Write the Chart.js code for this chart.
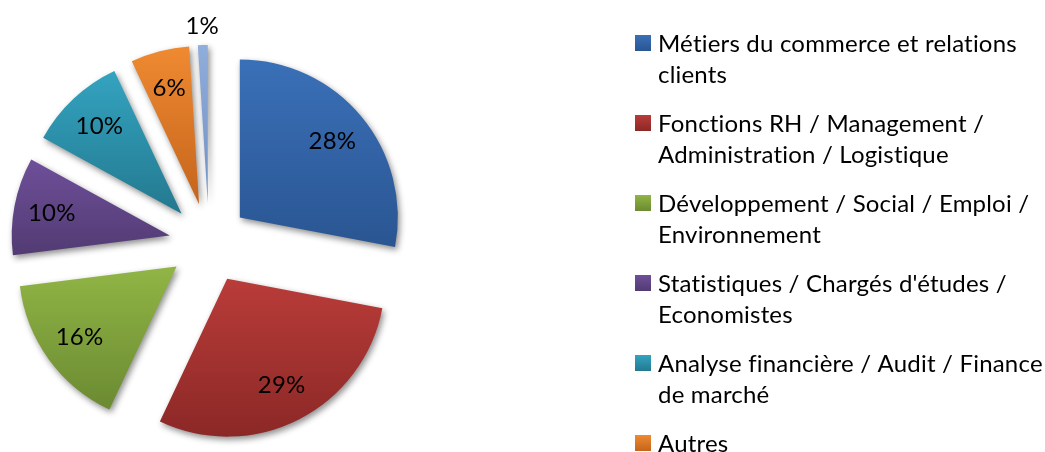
<!DOCTYPE html>
<html>
<head>
<meta charset="utf-8">
<script src="https://cdn.jsdelivr.net/npm/chart.js@4/dist/chart.umd.min.js"></script>
<style>
  body { margin: 0; background: #fff; }
  #wrap { width: 1045px; height: 452px; overflow: hidden; }
</style>
</head>
<body>
<div id="wrap"><canvas id="myChart" width="1045" height="452"></canvas></div>
<script>
"use strict";

// legend text, already broken in lines like the original
const categories = [
  ["Métiers du commerce et relations", "clients"],
  ["Fonctions RH / Management /", "Administration / Logistique"],
  ["Développement / Social / Emploi /", "Environnement"],
  ["Statistiques / Chargés d'études /", "Economistes"],
  ["Analyse financière / Audit / Finance", "de marché"],
  ["Autres"],
  [""]
];
const shares = [28, 29, 16, 10, 10, 6, 1];
const percentLabels = ["28%", "29%", "16%", "10%", "10%", "6%", "1%"];
const colorsTop = ["#3a70b8", "#b93c39", "#91b545", "#6e4f99", "#34a3c0", "#ef8a31", "#90addb"];
const colorsBottom = ["#2a5592", "#8b2826", "#6b8a32", "#523b73", "#23798f", "#c5641c", "#7190c4"];

const FONT = "Lato, 'Open Sans', sans-serif";
const explode = 40;
const pieRadius = 158;

const piePlugin = {
  id: "piePlugin",
  afterDatasetUpdate(chart, args) {
    // pull every slice out along its middle angle
    chart.getDatasetMeta(args.index).data.forEach(function (arc) {
      const mid = (arc.startAngle + arc.endAngle) / 2;
      arc.x += Math.cos(mid) * explode;
      arc.y += Math.sin(mid) * explode;
    });
  },
  beforeDatasetsDraw(chart) {
    const ctx = chart.ctx;
    chart.getDatasetMeta(0).data.forEach(function (arc, i) {
      const s = arc.startAngle, e = arc.endAngle, r = arc.outerRadius;
      let ys = [arc.y, arc.y + Math.sin(s) * r, arc.y + Math.sin(e) * r];
      [-Math.PI / 2, Math.PI / 2, 3 * Math.PI / 2].forEach(function (a) {
        if (a >= s && a <= e) ys.push(arc.y + Math.sin(a) * r);
      });
      const g = ctx.createLinearGradient(0, Math.min(...ys), 0, Math.max(...ys));
      g.addColorStop(0, colorsTop[i]);
      g.addColorStop(1, colorsBottom[i]);
      arc.options.backgroundColor = g;
    });
    ctx.save();
    ctx.shadowColor = "rgba(0,0,0,0.45)";
    ctx.shadowBlur = 6;
    ctx.shadowOffsetX = 2;
    ctx.shadowOffsetY = 3;
  },
  afterDatasetsDraw(chart) {
    const ctx = chart.ctx;
    ctx.restore();
    ctx.save();
    ctx.font = "24px " + FONT;
    ctx.letterSpacing = "0.2px";
    ctx.fillStyle = "#000";
    ctx.textAlign = "center";
    ctx.textBaseline = "middle";
    chart.getDatasetMeta(0).data.forEach(function (arc, i) {
      const mid = (arc.startAngle + arc.endAngle) / 2;
      const d = shares[i] < 3 ? arc.outerRadius * 1.12 : arc.outerRadius * 0.76;
      ctx.fillText(percentLabels[i], arc.x + Math.cos(mid) * d, arc.y + Math.sin(mid) * d);
    });
    ctx.restore();
  },
  afterDraw(chart) {
    const ctx = chart.ctx;
    ctx.save();
    ctx.font = "24px " + FONT;
    ctx.letterSpacing = "0.2px";
    ctx.textBaseline = "alphabetic";
    categories.forEach(function (lines, i) {
      const base = 52 + i * 80;
      const g = ctx.createLinearGradient(0, base - 17, 0, base - 1);
      g.addColorStop(0, colorsTop[i]);
      g.addColorStop(1, colorsBottom[i]);
      ctx.fillStyle = g;
      ctx.fillRect(635, base - 17, 16, 16);
      ctx.fillStyle = "#000";
      lines.forEach(function (t, j) {
        ctx.fillText(t, 658, base + j * 31);
      });
    });
    ctx.restore();
  }
};

const config = {
  type: "pie",
  data: {
    labels: categories.map((l) => l.join(" ")),
    datasets: [
      {
        data: shares,
        backgroundColor: colorsTop,
        borderWidth: 0,
        radius: pieRadius,
        hoverOffset: 0,
      },
    ],
  },
  options: {
    responsive: false,
    animation: false,
    events: [],
    layout: {
      padding: { left: 0, right: 627, top: 34, bottom: 0 },
    },
    plugins: {
      legend: { display: false },
      tooltip: { enabled: false },
    },
  },
  plugins: [piePlugin],
};

new Chart(document.getElementById("myChart"), config);
</script>
</body>
</html>
